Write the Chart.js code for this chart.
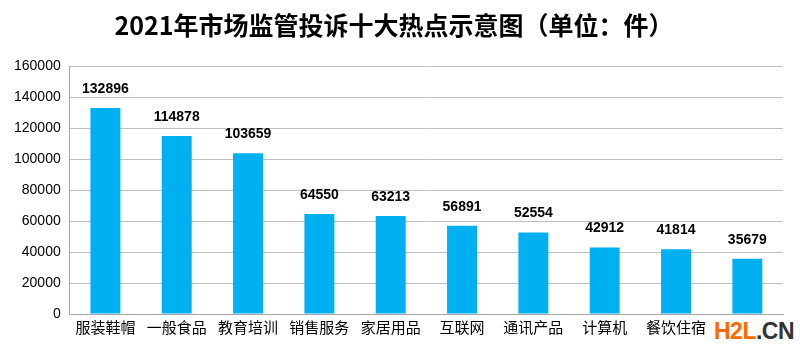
<!DOCTYPE html>
<html>
<head>
<meta charset="utf-8">
<script src="https://cdn.jsdelivr.net/npm/chart.js@4/dist/chart.umd.min.js"></script>
<style>
html,body{margin:0;padding:0;background:#fff;}
#wrap{position:relative;width:800px;height:355px;}
#wm{position:absolute;left:712px;top:318px;padding:0 2px;background:#fff;font-family:"Liberation Sans",Arial,sans-serif;font-weight:bold;font-size:23px;letter-spacing:-0.5px;line-height:26px;}
</style>
</head>
<body>
<div id="wrap">
<canvas id="c" width="800" height="355"></canvas>
<div id="wm"><span style="color:#FF6A00">H2L</span><span style="color:#333">.CN</span></div>
</div>
<script>
const titleText = "2021年市场监管投诉十大热点示意图（单位：件）";
const categories = ["服装鞋帽","一般食品","教育培训","销售服务","家居用品","互联网","通讯产品","计算机","餐饮住宿","汽车"];
const complaints = [132896,114878,103659,64550,63213,56891,52554,42912,41814,35679];
const yTicks = [0,20000,40000,60000,80000,100000,120000,140000,160000];

const cjk = '"Noto Sans CJK SC","Noto Sans",sans-serif';
const num = '"Liberation Sans","DejaVu Sans",sans-serif';

const valueLabels = {
  id:'valueLabels',
  afterDatasetsDraw(chart){
    const ctx = chart.ctx;
    const meta = chart.getDatasetMeta(0);
    ctx.save();
    ctx.font = 'bold 14px ' + num;
    ctx.fillStyle = '#000';
    ctx.textAlign = 'center';
    ctx.textBaseline = 'middle';
    meta.data.forEach((bar,i)=>{
      ctx.fillText(String(complaints[i]), bar.x, bar.y - 19);
    });
    ctx.restore();
  }
};

new Chart(document.getElementById('c'),{
  type:'bar',
  data:{
    labels:categories,
    datasets:[{data:complaints,backgroundColor:'#00B0F0',borderWidth:0,categoryPercentage:1,barPercentage:0.42}]
  },
  options:{
    responsive:false,
    animation:false,
    layout:{padding:{left:5,right:17,top:0,bottom:15}},
    plugins:{
      legend:{display:false},
      tooltip:{enabled:false},
      title:{display:true,text:titleText,color:'#000',font:{family:cjk,size:25,weight:'bold'},padding:{top:10,bottom:26}}
    },
    scales:{
      x:{
        grid:{display:false,drawTicks:false},
        border:{display:true,color:'#a6a6a6',width:1},
        ticks:{color:'#000',font:{family:cjk,size:15},padding:4,maxRotation:0,autoSkip:false}
      },
      y:{
        min:0,max:160000,
        afterBuildTicks(axis){axis.ticks = yTicks.map(v=>({value:v}));},
        grid:{color:'#bfbfbf',drawTicks:false,lineWidth:1},
        border:{display:true,color:'#a6a6a6',width:1},
        ticks:{color:'#000',font:{family:num,size:14},padding:9,callback:v=>String(v)}
      }
    }
  },
  plugins:[valueLabels]
});
</script>
</body>
</html>
